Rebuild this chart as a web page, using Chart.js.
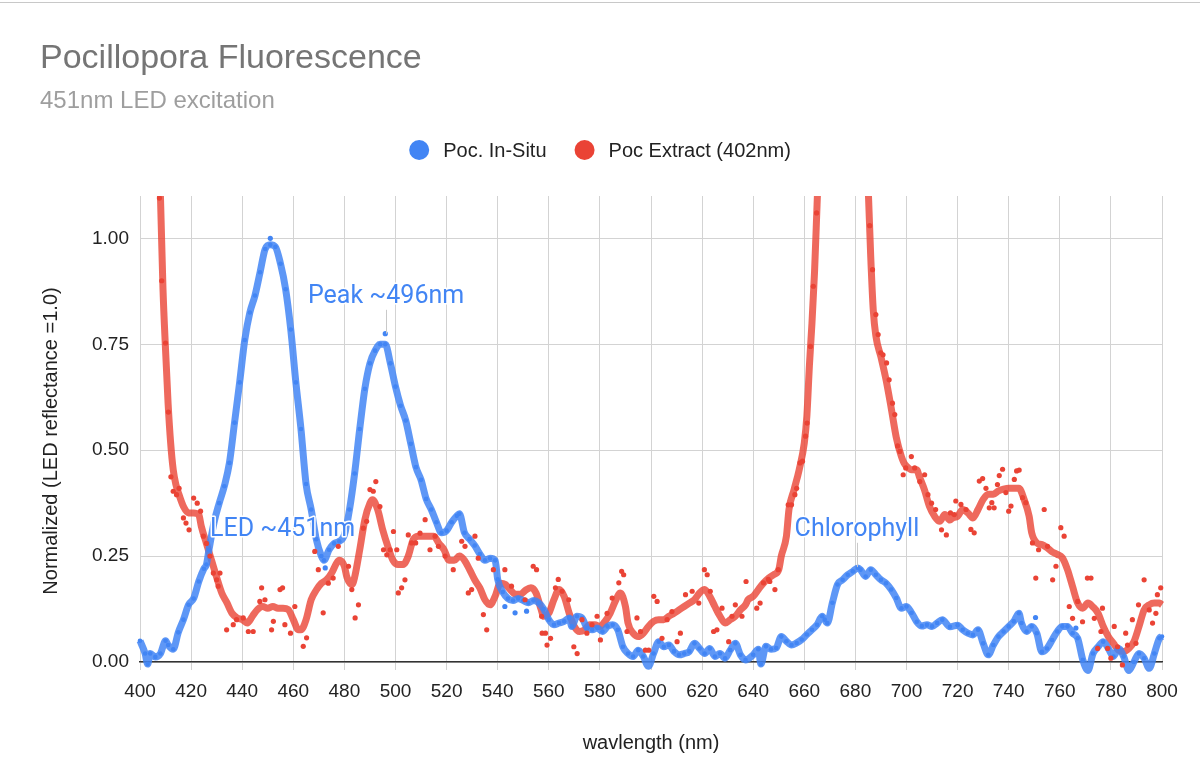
<!DOCTYPE html>
<html>
<head>
<meta charset="utf-8">
<title>Pocillopora Fluorescence</title>
<script src="https://cdn.jsdelivr.net/npm/chart.js@4.4.1/dist/chart.umd.min.js"></script>
<style>
    body { margin: 0; background: #fff; }
    .wrap { position: relative; width: 1200px; height: 783px; }
    .topline { position: absolute; left: 0; right: 0; top: 2px; height: 1px; background: #c8c8c8; }
</style>
</head>
<body>
<div class="wrap">
    <canvas id="fluorChart"></canvas>
    <div class="topline"></div>
</div>
<script>
// wavelength (nm) / normalized value
const inSituNm = [400, 402, 403, 404, 406, 408, 410, 411, 413, 415, 417, 419, 421, 423, 425, 426, 427, 429, 431, 433,
    435, 437, 439, 441, 443, 445, 447, 449, 451, 453, 455, 457, 459, 461, 463, 465, 467, 469, 471, 472,
    474, 476, 478, 480, 482, 484, 486, 488, 490, 492, 494, 496, 498, 500, 502, 504, 506, 508, 510, 512,
    514, 516, 518, 520, 522, 524, 525, 527, 529, 531, 533, 535, 537, 539, 540, 542, 544, 546, 548, 550,
    552, 554, 556, 558, 560, 562, 564, 566, 568, 569, 571, 573, 575, 577, 579, 581, 583, 585, 587, 589,
    591, 593, 595, 597, 599, 601, 603, 605, 607, 609, 611, 613, 615, 617, 619, 621, 623, 625, 627, 629,
    631, 633, 635, 637, 640, 642, 643, 645, 647, 649, 651, 653, 655, 657, 659, 661, 663, 665, 667, 668,
    669, 671, 673, 675, 677, 679, 681, 682, 684, 686, 688, 690, 692, 694, 696, 698, 700, 702, 704, 706,
    708, 710, 712, 714, 717, 720, 722, 724, 726, 728, 730, 732, 734, 736, 738, 740, 742, 744, 745, 747,
    749, 751, 753, 755, 757, 759, 761, 763, 765, 767, 769, 771, 773, 775, 777, 779, 781, 783, 785, 787,
    789, 791, 793, 795, 797, 799, 800];
const inSituVal = [0.05, 0.02, -0.005, 0.02, 0.012, 0.02, 0.05, 0.04, 0.03, 0.07, 0.10, 0.135, 0.15, 0.19, 0.22, 0.23, 0.265, 0.33, 0.375, 0.415,
    0.47, 0.565, 0.66, 0.76, 0.825, 0.865, 0.92, 0.975, 0.985, 0.98, 0.94, 0.88, 0.785, 0.66, 0.55, 0.42, 0.36, 0.29, 0.25, 0.24,
    0.265, 0.28, 0.285, 0.30, 0.36, 0.445, 0.55, 0.645, 0.705, 0.735, 0.75, 0.75, 0.705, 0.65, 0.605, 0.57, 0.515, 0.46, 0.43, 0.385,
    0.36, 0.33, 0.305, 0.31, 0.33, 0.345, 0.35, 0.305, 0.29, 0.275, 0.255, 0.24, 0.245, 0.24, 0.195, 0.165, 0.15, 0.145, 0.15, 0.145,
    0.14, 0.145, 0.14, 0.125, 0.10, 0.088, 0.092, 0.096, 0.104, 0.084, 0.108, 0.104, 0.08, 0.076, 0.08, 0.072, 0.084, 0.088, 0.076, 0.036,
    0.02, 0.013, 0.028, 0.013, -0.01, 0.02, 0.048, 0.036, 0.04, 0.025, 0.017, 0.02, 0.025, 0.044, 0.032, 0.02, 0.032, 0.013, 0.02, 0.009,
    0.028, 0.044, 0.017, 0.005, 0.017, 0.03, -0.005, 0.037, 0.03, 0.033, 0.06, 0.049, 0.04, 0.045, 0.053, 0.065, 0.076, 0.088, 0.108, 0.10,
    0.092, 0.14, 0.183, 0.194, 0.206, 0.214, 0.222, 0.218, 0.202, 0.218, 0.206, 0.194, 0.186, 0.171, 0.151, 0.127, 0.131, 0.116, 0.095, 0.085,
    0.088, 0.084, 0.092, 0.10, 0.083, 0.087, 0.076, 0.068, 0.064, 0.076, 0.044, 0.017, 0.04, 0.06, 0.072, 0.084, 0.096, 0.115, 0.092, 0.072,
    0.084, 0.068, 0.024, 0.032, 0.052, 0.072, 0.084, 0.084, 0.068, 0.056, 0.005, -0.02, 0.02, 0.036, 0.048, 0.032, 0.013, 0.032, 0.013, -0.02,
    0.0, 0.02, 0.009, -0.015, 0.02, 0.056, 0.06];

// extra in-situ samples that sit off the trace
const inSituDotNm = [451, 496, 472.5, 542.8, 546.8, 551.3, 750.5, 766.3];
const inSituDotVal = [1.0, 0.775, 0.222, 0.131, 0.116, 0.12, 0.105, 0.08];

// extract trend (goes off the top of the axis below 408nm and around 665-685nm)
const extractNm = [400, 402, 404, 406, 407, 408, 409, 410, 411, 412, 413, 414, 415, 417, 419, 421, 423, 424, 426, 428,
    430, 432, 434, 436, 438, 440, 442, 444, 446, 448, 450, 452, 454, 456, 458, 460, 462, 463, 465, 467,
    469, 471, 473, 475, 477, 478, 480, 481, 483, 484, 486, 488, 490, 491, 493, 495, 497, 499, 501, 503,
    505, 507, 509, 511, 513, 515, 517, 519, 521, 523, 525, 527, 529, 531, 533, 535, 537, 539, 541, 543,
    545, 547, 549, 551, 553, 555, 557, 558, 560, 562, 564, 566, 568, 570, 572, 574, 576, 578, 580, 582,
    584, 586, 588, 590, 591, 593, 595, 597, 599, 601, 603, 605, 607, 609, 611, 613, 615, 617, 619, 621,
    623, 625, 627, 629, 631, 633, 635, 637, 638, 640, 642, 644, 646, 648, 650, 651, 653, 654, 656, 658,
    660, 661, 662, 663, 664, 665, 667, 670, 675, 680, 683, 685, 686, 687, 688, 690, 692, 694, 696, 698,
    699, 700, 702, 704, 705, 707, 709, 711, 713, 715, 717, 718, 720, 722, 724, 726, 728, 730, 732, 734,
    736, 738, 740, 742, 744, 746, 748, 749, 751, 753, 755, 757, 759, 761, 763, 765, 767, 769, 771, 773,
    775, 777, 779, 781, 783, 785, 787, 789, 791, 793, 795, 797, 799, 800];
const extractVal = [2.6, 2.2, 1.8, 1.45, 1.28, 1.1, 0.88, 0.737, 0.61, 0.517, 0.454, 0.42, 0.40, 0.367, 0.352, 0.352, 0.348, 0.32, 0.28, 0.24,
    0.20, 0.163, 0.14, 0.115, 0.104, 0.10, 0.092, 0.108, 0.124, 0.131, 0.127, 0.131, 0.127, 0.127, 0.124, 0.10, 0.076, 0.076, 0.10, 0.147,
    0.17, 0.186, 0.194, 0.21, 0.234, 0.24, 0.226, 0.20, 0.183, 0.20, 0.265, 0.336, 0.375, 0.383, 0.36, 0.312, 0.273, 0.24, 0.23, 0.23,
    0.25, 0.29, 0.297, 0.297, 0.297, 0.297, 0.28, 0.265, 0.24, 0.24, 0.25, 0.24, 0.218, 0.194, 0.175, 0.147, 0.135, 0.155, 0.186, 0.183,
    0.17, 0.16, 0.16, 0.17, 0.175, 0.163, 0.124, 0.108, 0.115, 0.147, 0.171, 0.155, 0.115, 0.084, 0.072, 0.076, 0.088, 0.088, 0.084, 0.096,
    0.115, 0.143, 0.163, 0.131, 0.092, 0.068, 0.06, 0.068, 0.084, 0.096, 0.10, 0.10, 0.108, 0.115, 0.123, 0.131, 0.139, 0.147, 0.163, 0.171,
    0.155, 0.131, 0.108, 0.092, 0.10, 0.108, 0.123, 0.135, 0.147, 0.155, 0.171, 0.186, 0.198, 0.206, 0.218, 0.25, 0.297, 0.36, 0.407, 0.454,
    0.517, 0.58, 0.70, 0.80, 0.92, 1.08, 1.4, 1.8, 2.1, 1.8, 1.4, 1.12, 0.957, 0.83, 0.77, 0.72, 0.666, 0.60, 0.53, 0.485,
    0.47, 0.462, 0.454, 0.454, 0.438, 0.407, 0.367, 0.344, 0.332, 0.348, 0.335, 0.34, 0.344, 0.36, 0.352, 0.34, 0.36, 0.384, 0.396, 0.396,
    0.404, 0.408, 0.41, 0.41, 0.41, 0.384, 0.344, 0.305, 0.281, 0.277, 0.27, 0.26, 0.254, 0.246, 0.218, 0.178, 0.139, 0.127, 0.139, 0.13,
    0.115, 0.084, 0.06, 0.044, 0.028, 0.025, 0.032, 0.048, 0.084, 0.123, 0.135, 0.139, 0.139, 0.135];

// scattered extract samples
const extractDotNm = [407.6, 408.5, 410.0, 411.1, 412.1, 413.0, 414.3, 415.3, 417.0, 418.0, 419.2, 421.0, 422.4, 423.7, 424.8, 426.0, 427.4, 428.7, 430.0, 430.6,
    431.3, 433.9, 436.5, 437.8, 440.4, 442.4, 444.3, 446.9, 447.6, 448.9, 451.5, 452.2, 454.8, 455.8, 456.7, 458.9, 460.6, 463.9, 465.2, 468.4,
    469.8, 471.7, 473.7, 475.6, 477.6, 481.6, 482.9, 484.2, 485.5, 487.4, 488.7, 490.0, 491.3, 492.3, 493.9, 495.3, 496.6, 497.9, 499.2, 500.5,
    501.1, 502.4, 503.7, 505.0, 506.3, 507.9, 509.6, 511.6, 513.5, 515.5, 516.8, 519.4, 522.6, 525.9, 527.2, 528.5, 529.8, 531.1, 532.4, 534.4,
    535.7, 538.3, 542.8, 545.4, 550.7, 553.9, 555.2, 557.2, 557.4, 558.7, 559.3, 560.7, 562.6, 563.7, 565.2, 567.8, 569.8, 571.1, 573.0, 574.9,
    576.9, 578.9, 580.2, 582.8, 584.8, 587.4, 588.5, 589.3, 590.6, 594.5, 595.9, 597.8, 599.1, 601.1, 602.4, 604.3, 606.3, 608.2, 610.2, 611.5,
    613.5, 616.1, 618.7, 620.9, 622.0, 623.2, 624.5, 625.8, 627.8, 630.4, 631.7, 633.0, 635.6, 637.2, 641.4, 642.7, 644.0, 645.9, 646.5, 648.5,
    649.8, 653.7, 655.0, 656.3, 657.0, 658.3, 659.3, 660.5, 661.1, 662.4, 663.5, 664.8, 685.6, 686.7, 688.0, 688.9, 689.9, 690.8, 692.2, 693.2,
    694.5, 695.4, 696.5, 697.4, 698.7, 699.7, 701.9, 703.2, 705.2, 707.1, 708.4, 709.8, 711.4, 713.7, 715.6, 717.2, 718.7, 719.3, 721.3, 723.3,
    725.2, 726.5, 728.5, 729.8, 731.1, 732.4, 733.4, 734.3, 735.6, 736.3, 737.6, 738.9, 740.0, 740.9, 742.2, 743.1, 744.1, 745.4, 746.7, 749.3,
    750.6, 751.7, 753.9, 755.2, 757.2, 758.5, 760.4, 761.7, 763.7, 765.0, 767.0, 768.9, 770.8, 772.2, 773.5, 774.8, 776.1, 776.7, 778.7, 780.0,
    781.3, 782.6, 784.5, 785.8, 786.5, 788.4, 789.8, 790.8, 793.0, 795.0, 796.3, 797.6, 798.2, 799.5];
const extractDotVal = [1.095, 0.90, 0.753, 0.59, 0.437, 0.403, 0.395, 0.41, 0.34, 0.328, 0.312, 0.387, 0.375, 0.356, 0.297, 0.28, 0.25, 0.21, 0.194, 0.179,
    0.21, 0.076, 0.088, 0.10, 0.104, 0.072, 0.072, 0.143, 0.175, 0.147, 0.076, 0.096, 0.171, 0.175, 0.088, 0.068, 0.131, 0.037, 0.057, 0.261,
    0.218, 0.116, 0.186, 0.198, 0.273, 0.226, 0.171, 0.104, 0.135, 0.316, 0.332, 0.407, 0.403, 0.426, 0.367, 0.265, 0.253, 0.265, 0.308, 0.265,
    0.163, 0.175, 0.194, 0.30, 0.281, 0.281, 0.304, 0.336, 0.265, 0.297, 0.273, 0.25, 0.218, 0.285, 0.273, 0.163, 0.171, 0.297, 0.245, 0.112,
    0.076, 0.218, 0.218, 0.179, 0.147, 0.226, 0.218, 0.108, 0.068, 0.068, 0.04, 0.056, 0.175, 0.195, 0.167, 0.147, 0.036, 0.02, 0.10, 0.068,
    0.088, 0.108, 0.052, 0.115, 0.151, 0.187, 0.214, 0.206, 0.072, 0.104, 0.072, 0.028, 0.028, 0.155, 0.143, 0.056, 0.10, 0.119, 0.048, 0.068,
    0.159, 0.167, 0.139, 0.218, 0.206, 0.167, 0.072, 0.076, 0.127, 0.048, 0.108, 0.135, 0.108, 0.19, 0.127, 0.139, 0.187, 0.195, 0.19, 0.171,
    0.218, 0.371, 0.371, 0.395, 0.41, 0.47, 0.474, 0.533, 0.564, 0.745, 0.887, 1.06, 1.03, 0.926, 0.82, 0.773, 0.73, 0.725, 0.706, 0.666,
    0.611, 0.584, 0.51, 0.497, 0.442, 0.458, 0.485, 0.458, 0.426, 0.442, 0.395, 0.375, 0.36, 0.312, 0.30, 0.352, 0.348, 0.38, 0.372, 0.36,
    0.313, 0.305, 0.427, 0.433, 0.41, 0.364, 0.376, 0.364, 0.419, 0.44, 0.455, 0.40, 0.356, 0.368, 0.431, 0.451, 0.453, 0.388, 0.376, 0.281,
    0.198, 0.265, 0.36, 0.273, 0.194, 0.226, 0.317, 0.297, 0.131, 0.103, 0.143, 0.095, 0.198, 0.198, 0.103, 0.032, 0.072, 0.127, 0.032, 0.009,
    0.084, 0.036, -0.007, 0.068, 0.04, 0.10, 0.044, 0.135, 0.194, 0.123, 0.092, 0.115, 0.159, 0.175];

const xTicks = [400, 800, 20];
const yTicks = [0, 1, 0.25];

document.addEventListener('DOMContentLoaded', () => {
    const BLUE = '#4285F4';
    const RED = '#EA4335';
    const FONT = "'Liberation Sans', Arial, Helvetica, sans-serif";

    const zip = (xs, ys) => xs.map((x, i) => ({ x, y: ys[i] }));
    const clip = { left: 8, top: 0, right: 8, bottom: 12 };

    // data labels drawn the way Sheets does: blue text with a white halo + thin leader
    const notes = [
        { text: 'Peak ~496nm', x: 496.3, y: 0.862, tip: 0.775 },
        { text: 'LED ~451nm', x: 455.8, y: 0.312, tip: null },
        { text: 'Chlorophyll', x: 680.6, y: 0.312, tip: 0.224 }
    ];

    const notesPlugin = {
        id: 'notes',
        afterDatasetsDraw(chart) {
            const { ctx, scales: { x, y } } = chart;
            ctx.save();
            notes.forEach(n => {
                const px = x.getPixelForValue(n.x);
                const py = y.getPixelForValue(n.y);
                if (n.tip !== null) {
                    ctx.strokeStyle = '#c9c9c9';
                    ctx.lineWidth = 1;
                    ctx.beginPath();
                    ctx.moveTo(Math.round(px) + 0.5, py + 13);
                    ctx.lineTo(Math.round(px) + 0.5, y.getPixelForValue(n.tip));
                    ctx.stroke();
                }
                ctx.font = "25px Roboto, 'Liberation Sans', sans-serif";
                ctx.textAlign = 'center';
                ctx.textBaseline = 'middle';
                ctx.lineJoin = 'round';
                ctx.strokeStyle = '#fff';
                ctx.lineWidth = 3;
                ctx.strokeText(n.text, px, py);
                ctx.fillStyle = BLUE;
                ctx.fillText(n.text, px, py);
            });
            ctx.restore();
        }
    };

    // legend + vertical axis title in the sheets style
    const legendPlugin = {
        id: 'sheetLegend',
        afterDraw(chart) {
            const { ctx } = chart;
            const items = chart.data.datasets.filter(d => d.inLegend);
            ctx.save();
            ctx.font = '20px ' + FONT;
            const r = 10, gapText = 14, gapItem = 28;
            const widths = items.map(d => 2 * r + gapText + ctx.measureText(d.label).width);
            const total = widths.reduce((a, b) => a + b, 0) + gapItem * (items.length - 1);
            let cx = chart.width / 2 - total / 2;
            const cy = 150;
            items.forEach((d, i) => {
                ctx.fillStyle = d.pointBackgroundColor;
                ctx.beginPath();
                ctx.arc(cx + r, cy, r, 0, Math.PI * 2);
                ctx.fill();
                ctx.fillStyle = '#222';
                ctx.textAlign = 'left';
                ctx.textBaseline = 'middle';
                ctx.fillText(d.label, cx + 2 * r + gapText, cy + 1);
                cx += widths[i] + gapItem;
            });

            // y title sits a little below the plot centre in the original
            const area = chart.chartArea;
            ctx.translate(51, (area.top + area.bottom) / 2 + 12);
            ctx.rotate(-Math.PI / 2);
            ctx.textAlign = 'center';
            ctx.fillStyle = '#222';
            ctx.fillText('Normalized (LED reflectance =1.0)', 0, 0);
            ctx.restore();
        }
    };

    Chart.defaults.font.family = FONT;
    Chart.defaults.color = '#222';

    const ctx = document.getElementById('fluorChart').getContext('2d');
    new Chart(ctx, {
        type: 'scatter',
        data: {
            datasets: [
                {
                    label: 'Poc. In-Situ',
                    inLegend: true,
                    data: zip(inSituNm, inSituVal),
                    showLine: true,
                    cubicInterpolationMode: 'monotone',
                    borderColor: 'rgba(66, 133, 244, 0.85)',
                    borderWidth: 7,
                    pointRadius: 2.3,
                    pointBorderWidth: 0,
                    pointBackgroundColor: BLUE,
                    clip,
                    order: 3
                },
                {
                    label: 'Poc Extract (402nm)',
                    inLegend: true,
                    data: zip(extractNm, extractVal),
                    showLine: true,
                    cubicInterpolationMode: 'monotone',
                    borderColor: 'rgba(234, 67, 53, 0.8)',
                    borderWidth: 7,
                    pointRadius: 0,
                    pointBackgroundColor: RED,
                    clip,
                    order: 4
                },
                {
                    label: 'In-Situ samples',
                    data: zip(inSituDotNm, inSituDotVal),
                    pointRadius: 2.6,
                    pointBorderWidth: 0,
                    pointBackgroundColor: BLUE,
                    clip,
                    order: 1
                },
                {
                    label: 'Extract samples',
                    data: zip(extractDotNm, extractDotVal),
                    pointRadius: 2.6,
                    pointBorderWidth: 0,
                    pointBackgroundColor: RED,
                    clip,
                    order: 2
                }
            ]
        },
        options: {
            responsive: true,
            maintainAspectRatio: false,
            animation: false,
            layout: { padding: { left: 40, right: 38, top: 0, bottom: 0 } },
            plugins: {
                legend: { display: false },
                tooltip: { enabled: false },
                title: {
                    display: true,
                    text: 'Pocillopora Fluorescence',
                    align: 'start',
                    color: '#757575',
                    font: { size: 34, weight: 'normal' },
                    padding: { top: 38.6, bottom: 0 }
                },
                subtitle: {
                    display: true,
                    text: '451nm LED excitation',
                    align: 'start',
                    color: '#9e9e9e',
                    font: { size: 24, weight: 'normal' },
                    padding: { top: 7.2, bottom: 80.6 }
                }
            },
            scales: {
                x: {
                    type: 'linear',
                    min: xTicks[0],
                    max: xTicks[1],
                    afterFit: (scale) => { scale.height = 121; },
                    ticks: { stepSize: xTicks[2], font: { size: 19 }, color: '#222', padding: 10, maxRotation: 0 },
                    grid: { color: '#d3d3d3', tickColor: '#d3d3d3', tickLength: 8 },
                    border: { color: '#333', width: 1.5 },
                    title: {
                        display: true,
                        text: 'wavlength (nm)',
                        color: '#222',
                        font: { size: 20 },
                        padding: { top: 0, bottom: 28 }
                    }
                },
                y: {
                    min: 0,
                    max: 1.1,
                    afterFit: (scale) => { scale.width = 100; },
                    ticks: {
                        stepSize: yTicks[2],
                        includeBounds: false,
                        font: { size: 19 },
                        color: '#222',
                        padding: 11,
                        callback: (v) => v.toFixed(2)
                    },
                    grid: { color: '#d3d3d3', drawTicks: false },
                    border: { display: false }
                }
            }
        },
        plugins: [notesPlugin, legendPlugin]
    });
});
</script>
</body>
</html>
